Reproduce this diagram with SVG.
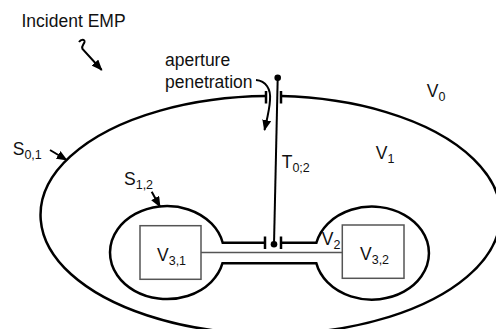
<svg xmlns="http://www.w3.org/2000/svg" width="496" height="329" viewBox="0 0 496 329">
<style>
text{font-family:"Liberation Sans",Arial,sans-serif;font-size:17.5px;fill:#111}
.sub{font-size:12.5px}
.thick{fill:none;stroke:#000;stroke-width:2.5}
.wire{fill:none;stroke:#000;stroke-width:2}
.grey{fill:#fff;stroke:#555;stroke-width:1.5}
.arr{fill:none;stroke:#000;stroke-width:2;marker-end:url(#ah)}
</style>
<defs>
<marker id="ah" markerWidth="11" markerHeight="9" refX="10" refY="4.5" orient="auto" markerUnits="userSpaceOnUse">
<path d="M0,0 L11,4.5 L0,9 z" fill="#000"/>
</marker>
</defs>
<rect width="496" height="329" fill="#fff"/>

<g id="outer-surface">
<path class="thick" d="M281 96.1 A230 119 0 1 1 266 96.0"/>
<line class="thick" x1="266" y1="91" x2="266" y2="103.5"/>
<line class="thick" x1="281" y1="91" x2="281" y2="103.5"/>
</g>

<g id="inner-surface">
<path class="thick" d="M265 242.7 L222.7 242.7 A57 46.5 0 1 0 222.5 263.2 L316.3 263.2 A57 46.5 0 1 0 316.4 242.7 L281 242.7"/>
<line class="thick" x1="265" y1="236.5" x2="265" y2="249"/>
<line class="thick" x1="281" y1="236.5" x2="281" y2="249"/>
</g>

<g id="wire-T02">
<line class="wire" x1="277.7" y1="77.7" x2="274" y2="244.3"/>
<circle cx="277.7" cy="77.7" r="3.3" fill="#000"/>
<circle cx="274" cy="244.3" r="3.3" fill="#000"/>
</g>

<g id="inner-line">
<line x1="201" y1="252.5" x2="342.3" y2="252.5" stroke="#555" stroke-width="1.5"/>
</g>

<g id="V31">
<rect class="grey" x="140" y="225.7" width="61" height="53.6"/>
<text x="157" y="260.7">V<tspan class="sub" dy="4">3,1</tspan></text>
</g>

<g id="V32">
<rect class="grey" x="342.3" y="225" width="61.7" height="53.3"/>
<text x="360" y="260">V<tspan class="sub" dy="4">3,2</tspan></text>
</g>

<g id="connectors">
<path class="arr" d="M79 42 C81 39 85 39 84.5 42 C84 44.5 81 45.5 82.5 49 L101.7 70"/>
<line class="arr" x1="50" y1="150" x2="66.7" y2="160"/>
<line class="arr" x1="151.7" y1="191.7" x2="160" y2="206.7"/>
<path class="arr" d="M256 80 C266 81 271 89 270 100 C269.5 110 267 119 264.5 130"/>
</g>

<g id="labels">
<text x="21.5" y="27.3">Incident EMP</text>
<text x="165" y="65.5">aperture</text>
<text x="165" y="87.5">penetration</text>
<text x="12.7" y="155">S<tspan class="sub" dy="4">0,1</tspan></text>
<text x="124" y="185">S<tspan class="sub" dy="4">1,2</tspan></text>
<text x="426.7" y="97">V<tspan class="sub" dy="4">0</tspan></text>
<text x="375.7" y="159.3">V<tspan class="sub" dy="4">1</tspan></text>
<text x="281.7" y="168">T<tspan class="sub" dy="4">0;2</tspan></text>
<text x="321.7" y="245">V<tspan class="sub" dy="4">2</tspan></text>
</g>
</svg>
